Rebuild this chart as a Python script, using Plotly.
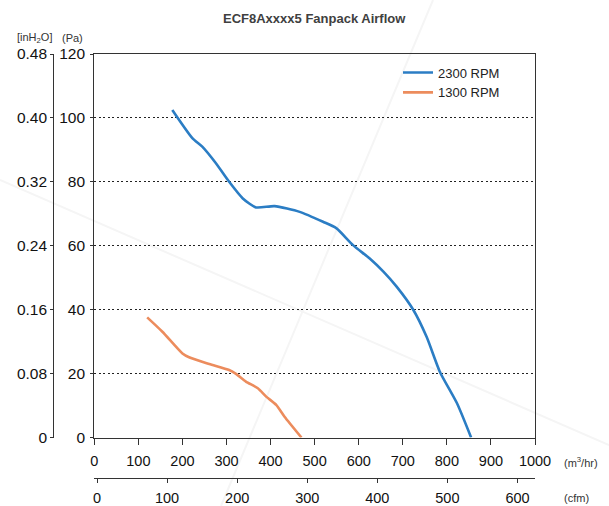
import plotly.graph_objects as go

# ---- data ----
flow_2300 = [177, 223, 245, 276, 306, 337, 367, 409, 466, 519, 549, 587, 625, 656, 686, 724, 754, 784, 823, 855]
pa_2300 = [102.5, 93.6, 91.0, 85.8, 80.0, 74.8, 72.0, 72.4, 70.6, 67.5, 65.5, 60.2, 56.0, 51.9, 47.2, 39.9, 31.5, 20.6, 10.7, 0.0]

flow_1300 = [120, 154.5, 200, 215, 261, 306, 321.6, 344, 371, 390, 412.7, 431.7, 470]
pa_1300 = [37.6, 33.1, 26.3, 25.1, 23.0, 21.1, 19.9, 17.5, 15.4, 12.8, 10.2, 6.5, 0.0]

series_names = ["2300 RPM", "1300 RPM"]
series_colors = ["#2b7dc4", "#ec8c5d"]

m3_ticks = list(range(0, 1001, 100))
pa_ticks = list(range(0, 121, 20))
inh2o_ticks = [0, 0.08, 0.16, 0.24, 0.32, 0.40, 0.48]
inh2o_labels = ["0", "0.08", "0.16", "0.24", "0.32", "0.40", "0.48"]
cfm_ticks = list(range(0, 601, 100))

FONT = "Liberation Sans, Arial, sans-serif"
AX = "#333333"

# paper geometry (pixels)
W, H = 609, 506
L, R, T, B = 40, 70, 54, 28
PW = W - L - R
PH = H - T - B


def px_x(p):
    return (p - L) / PW


def px_y(p):
    return (H - B - p) / PH


fig = go.Figure()
fig.add_trace(go.Scatter(x=flow_2300, y=pa_2300, mode="lines", name=series_names[0],
                         line=dict(color=series_colors[0], width=2.6, shape="spline", smoothing=0.6)))
fig.add_trace(go.Scatter(x=flow_1300, y=pa_1300, mode="lines", name=series_names[1],
                         line=dict(color=series_colors[1], width=2.6, shape="spline", smoothing=0.6)))
# dummy traces to activate the extra axes
fig.add_trace(go.Scatter(x=[None], y=[None], xaxis="x2", yaxis="y", showlegend=False, hoverinfo="skip"))
fig.add_trace(go.Scatter(x=[None], y=[None], xaxis="x", yaxis="y2", showlegend=False, hoverinfo="skip"))

x0_px, x1_px = 94.3, 535.0
y0_px = 437.5
cfm0_px, cfm_per = 97.0, 0.7008

fig.update_layout(
    width=W, height=H,
    margin=dict(l=L, r=R, t=T, b=B, autoexpand=False),
    paper_bgcolor="white", plot_bgcolor="white",
    font=dict(family=FONT, color="#111111", size=15),
    showlegend=True,
    legend=dict(x=px_x(398), y=px_y(57.5), xanchor="left", yanchor="top",
                font=dict(size=13, color="#222222"), bgcolor="rgba(0,0,0,0)",
                borderwidth=0, tracegroupgap=0),
    xaxis=dict(domain=[px_x(x0_px), px_x(x1_px)], range=[0, 1000], tickvals=m3_ticks,
               ticks="outside", ticklen=6, tickwidth=1.3, tickcolor=AX,
               showline=True, linecolor=AX, linewidth=1.3, mirror=True, automargin=False,
               showgrid=False, zeroline=False, tickfont=dict(size=14.5), ticklabelstandoff=4),
    yaxis=dict(domain=[px_y(y0_px), 1], range=[0, 120], tickvals=pa_ticks,
               ticks="outside", ticklen=3, tickwidth=1.3, tickcolor=AX,
               showline=True, linecolor=AX, linewidth=1.3, mirror=True, automargin=False,
               showgrid=True, gridcolor="#222222", gridwidth=1, griddash="2px,2.5px",
               zeroline=False, tickfont=dict(size=15.5), ticklabelstandoff=2),
    yaxis2=dict(overlaying="y", anchor="free", position=px_x(53.3), side="left",
                range=[0, 0.48], tickvals=inh2o_ticks, ticktext=inh2o_labels,
                ticks="outside", ticklen=3, tickwidth=1.3, tickcolor=AX, automargin=False,
                showline=True, linecolor=AX, linewidth=1.3, showgrid=False, zeroline=False,
                tickfont=dict(size=15.5), ticklabelstandoff=0),
    xaxis2=dict(overlaying="x", anchor="free", position=0, side="bottom",
                range=[-(cfm0_px - x0_px) / cfm_per, (x1_px - cfm0_px) / cfm_per],
                tickvals=cfm_ticks, ticks="outside", ticklen=4, tickwidth=1.3, tickcolor=AX,
                showline=True, linecolor=AX, linewidth=1.3, showgrid=False, zeroline=False,
                automargin=False, tickfont=dict(size=14.5), ticklabelstandoff=2),
)

ann_font = dict(family=FONT, size=11, color="#333333")
fig.add_annotation(text="<b>ECF8Axxxx5 Fanpack Airflow</b>", xref="paper", yref="paper",
                   x=px_x(314), y=px_y(18.5), xanchor="center", yanchor="middle", showarrow=False,
                   font=dict(family=FONT, size=13, color="#404040"))
fig.add_annotation(text="[inH<sub>2</sub>O]", xref="paper", yref="paper",
                   x=px_x(34), y=px_y(38), xanchor="center", yanchor="middle", showarrow=False,
                   font=ann_font)
fig.add_annotation(text="(Pa)", xref="paper", yref="paper",
                   x=px_x(72), y=px_y(38), xanchor="center", yanchor="middle", showarrow=False,
                   font=ann_font)
fig.add_annotation(text="(m<sup>3</sup>/hr)", xref="paper", yref="paper",
                   x=px_x(562), y=px_y(461.5), xanchor="left", yanchor="middle", showarrow=False,
                   font=ann_font)
fig.add_annotation(text="(cfm)", xref="paper", yref="paper",
                   x=px_x(562), y=px_y(498), xanchor="left", yanchor="middle", showarrow=False,
                   font=ann_font)

# faint watermark strokes in the background
for (ax, ay), (bx, by) in [((433, 0), (221, 506)), ((0, 180), (609, 445))]:
    fig.add_shape(type="line", xref="paper", yref="paper",
                  x0=px_x(ax), y0=px_y(ay), x1=px_x(bx), y1=px_y(by),
                  line=dict(color="#f5f5f5", width=2), layer="below")

fig.write_html("out.html", config={"displayModeBar": False},
               post_script="document.body.style.margin='0';")
